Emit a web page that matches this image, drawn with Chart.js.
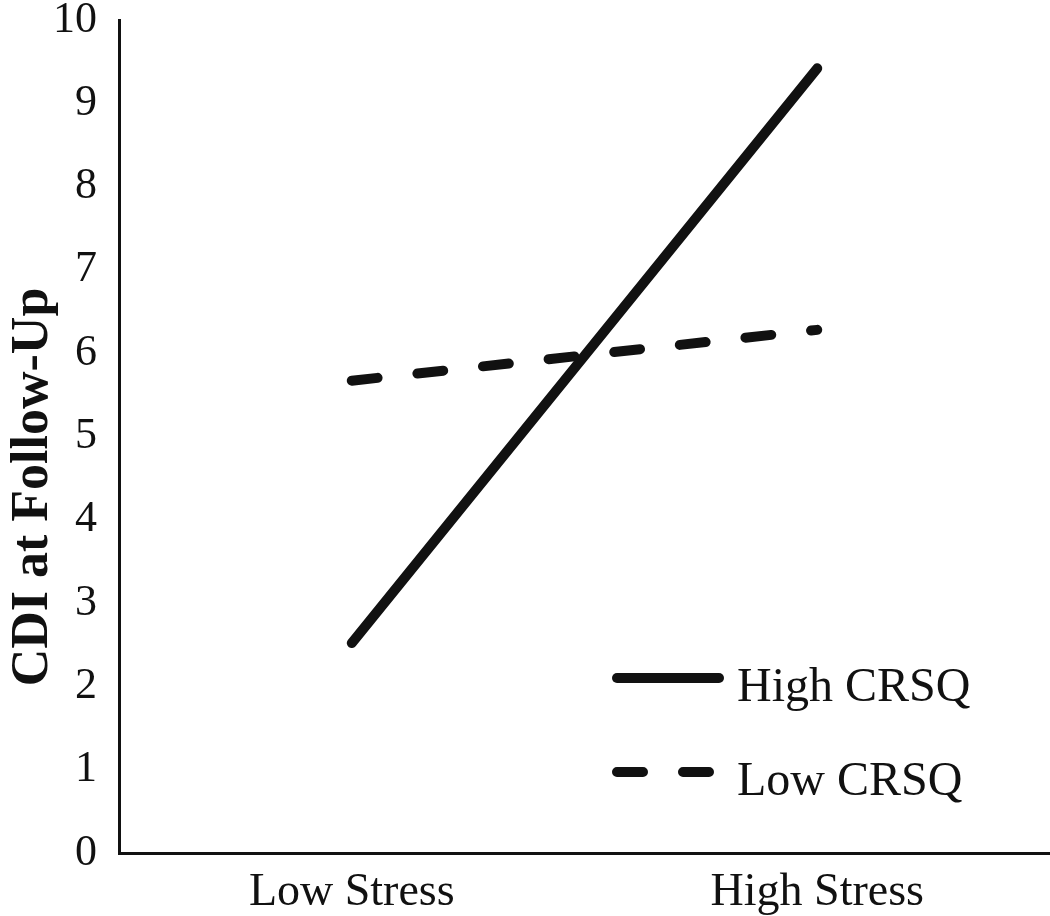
<!DOCTYPE html>
<html>
<head>
<meta charset="utf-8">
<script src="https://cdn.jsdelivr.net/npm/chart.js@4/dist/chart.umd.min.js"></script>
<style>
    html, body { margin: 0; padding: 0; background: #ffffff; }
    #wrap { width: 1050px; height: 916px; }
</style>
</head>
<body>
<div id="wrap"><canvas id="interactionChart" width="1050" height="916"></canvas></div>
<script>
// Chart values
const stressLevels = ["Low Stress", "High Stress"];
const highCrsq = [2.52, 9.42];
const lowCrsq = [5.67, 6.28];
const seriesNames = ["High CRSQ", "Low CRSQ"];
const yTicks = [0, 1, 2, 3, 4, 5, 6, 7, 8, 9, 10];
const yAxisTitle = "CDI at Follow-Up";

const serif = "'Liberation Serif', 'Times New Roman', serif";

// Draws the y axis title (sits a little below the middle of the axis in the original)
const axisTitle = {
    id: 'axisTitle',
    afterDraw(chart) {
        const ctx = chart.ctx;
        ctx.save();
        ctx.translate(47, 487);
        ctx.rotate(-Math.PI / 2);
        ctx.fillStyle = '#111111';
        ctx.font = 'bold 52px ' + serif;
        ctx.textAlign = 'center';
        ctx.textBaseline = 'alphabetic';
        ctx.fillText(yAxisTitle, 0, 0);
        ctx.restore();
    }
};

// Draws the legend inside the plot, bottom right, using the dataset styles
const insideLegend = {
    id: 'insideLegend',
    afterDatasetsDraw(chart) {
        const ctx = chart.ctx;
        const area = chart.chartArea;
        const startX = area.left + 493;
        const lineLen = 112;
        const rows = [area.top + 658, area.top + 752];

        chart.data.datasets.forEach((ds, i) => {
            const y = rows[i];
            ctx.save();
            ctx.strokeStyle = ds.borderColor;
            ctx.lineWidth = ds.borderWidth;
            ctx.lineCap = 'round';
            ctx.setLineDash(ds.borderDash || []);
            ctx.beginPath();
            ctx.moveTo(startX + 5, y);
            ctx.lineTo(startX + lineLen - 5, y);
            ctx.stroke();
            ctx.restore();

            ctx.save();
            ctx.fillStyle = '#111111';
            ctx.font = '48px ' + serif;
            ctx.textBaseline = 'middle';
            ctx.textAlign = 'left';
            ctx.fillText(ds.label, startX + lineLen + 13, y + 10);
            ctx.restore();
        });
    }
};

const canvasContext = document.getElementById('interactionChart').getContext('2d');

new Chart(canvasContext, {
    type: 'line',
    data: {
        labels: stressLevels,
        datasets: [
            {
                label: seriesNames[0],
                data: highCrsq,
                borderColor: '#111111',
                borderWidth: 10,
                borderCapStyle: 'round',
                pointRadius: 0,
                tension: 0,
                fill: false
            },
            {
                label: seriesNames[1],
                data: lowCrsq,
                borderColor: '#111111',
                borderWidth: 10,
                borderCapStyle: 'round',
                borderDash: [26, 40],
                pointRadius: 0,
                tension: 0,
                fill: false
            }
        ]
    },
    options: {
        responsive: false,
        animation: false,
        layout: {
            padding: { top: 20, right: 0, bottom: 0, left: 0 }
        },
        plugins: {
            legend: { display: false },
            tooltip: { enabled: false }
        },
        scales: {
            x: {
                offset: true,
                grid: { display: false, drawTicks: false },
                border: { display: true, color: '#111111', width: 3 },
                ticks: {
                    color: '#111111',
                    padding: 12,
                    maxRotation: 0,
                    font: { family: serif, size: 46 }
                },
                afterFit(scale) {
                    scale.height = 63;
                    scale.paddingLeft = 0;
                    scale.paddingRight = 0;
                }
            },
            y: {
                min: 0,
                max: 10,
                grid: { display: false, drawTicks: false },
                border: { display: true, color: '#111111', width: 3 },
                afterBuildTicks(scale) {
                    scale.ticks = yTicks.map(v => ({ value: v }));
                },
                ticks: {
                    color: '#111111',
                    padding: 22,
                    font: { family: serif, size: 44, lineHeight: 1 }
                },
                afterFit(scale) {
                    scale.width = 119;
                    scale.paddingTop = 0;
                    scale.paddingBottom = 0;
                }
            }
        }
    },
    plugins: [axisTitle, insideLegend]
});
</script>
</body>
</html>
